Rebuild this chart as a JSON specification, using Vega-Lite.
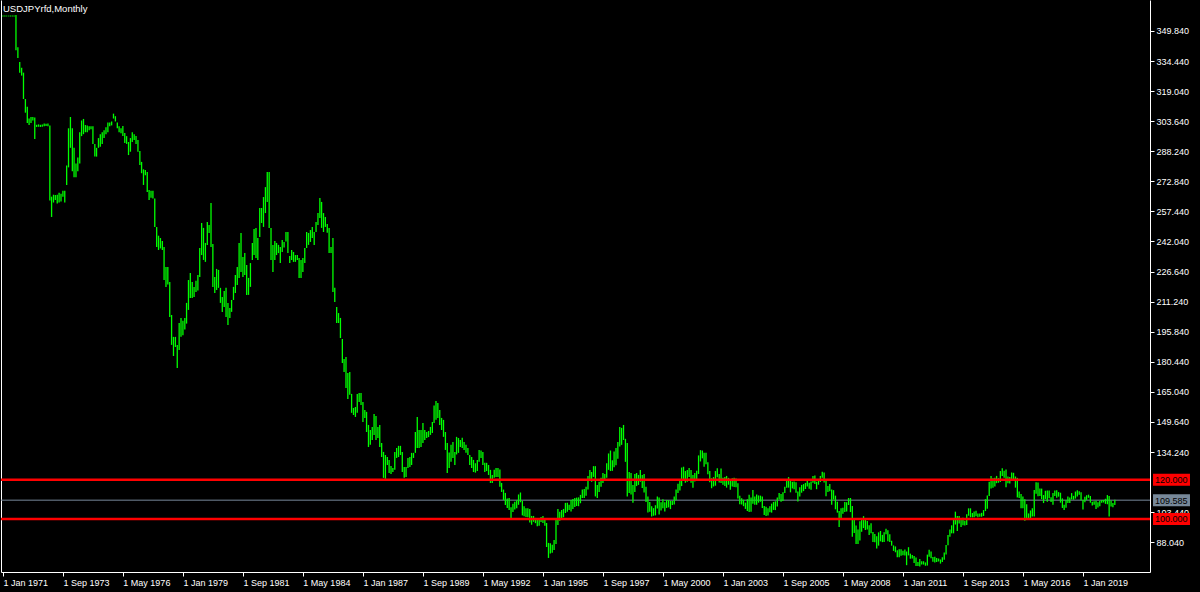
{
"$schema": "https://vega.github.io/schema/vega-lite/v6.json",
"width": 1149, "height": 572,
"autosize": {"type": "none"},
"padding": {"left": 1, "top": 0, "right": 50, "bottom": 20},
"background": "#000000",
"config": {"view": {"stroke": null}, "font": "Liberation Sans"},
"title": {"text": "USDJPYrfd,Monthly", "anchor": "start", "frame": "group", "offset": -21, "baseline": "alphabetic", "dx": 2, "color": "#ffffff", "fontSize": 9.5, "fontWeight": "normal", "font": "Liberation Sans"},
"datasets": {
"levels": [
{"level": 120, "label": "120.000", "kind": "level"},
{"level": 100, "label": "100.000", "kind": "level"},
{"level": 109.585, "label": "109.585", "kind": "bid"}
],
"bars": [
{"t":"1971-01","h":357.7,"l":357.3},{"t":"1971-02","h":357.7,"l":357.3},{"t":"1971-03","h":357.7,"l":357.3},{"t":"1971-04","h":357.7,"l":357.3},{"t":"1971-05","h":357.7,"l":357.3},{"t":"1971-06","h":357.7,"l":357.3},{"t":"1971-07","h":357.7,"l":357.3},{"t":"1971-08","h":358.0,"l":340.0},{"t":"1971-09","h":341.5,"l":336.0},{"t":"1971-10","h":334.0,"l":328.5},{"t":"1971-11","h":331.0,"l":327.0},{"t":"1971-12","h":328.5,"l":315.0},
{"t":"1972-01","h":315.0,"l":308.0},{"t":"1972-02","h":311.0,"l":302.7},{"t":"1972-03","h":305.0,"l":301.7},{"t":"1972-04","h":305.8,"l":302.7},{"t":"1972-05","h":305.8,"l":304.0},{"t":"1972-06","h":305.5,"l":294.5},{"t":"1972-07","h":301.8,"l":300.7},{"t":"1972-08","h":302.0,"l":300.8},{"t":"1972-09","h":301.8,"l":300.7},{"t":"1972-10","h":302.0,"l":300.8},{"t":"1972-11","h":302.5,"l":301.0},{"t":"1972-12","h":302.3,"l":301.2},
{"t":"1973-01","h":302.5,"l":301.0},{"t":"1973-02","h":301.5,"l":263.0},{"t":"1973-03","h":265.0,"l":254.6},{"t":"1973-04","h":266.0,"l":262.0},{"t":"1973-05","h":265.9,"l":263.3},{"t":"1973-06","h":266.0,"l":261.5},{"t":"1973-07","h":267.0,"l":262.0},{"t":"1973-08","h":266.5,"l":262.5},{"t":"1973-09","h":268.0,"l":265.0},{"t":"1973-10","h":268.0,"l":262.0},{"t":"1973-11","h":281.0,"l":271.0},{"t":"1973-12","h":300.0,"l":280.0},
{"t":"1974-01","h":305.8,"l":290.0},{"t":"1974-02","h":300.0,"l":278.0},{"t":"1974-03","h":290.0,"l":275.0},{"t":"1974-04","h":282.0,"l":275.0},{"t":"1974-05","h":285.0,"l":278.0},{"t":"1974-06","h":298.0,"l":282.0},{"t":"1974-07","h":304.0,"l":296.0},{"t":"1974-08","h":304.8,"l":297.0},{"t":"1974-09","h":301.7,"l":298.0},{"t":"1974-10","h":301.5,"l":298.0},{"t":"1974-11","h":301.0,"l":299.0},{"t":"1974-12","h":301.0,"l":299.5},
{"t":"1975-01","h":301.0,"l":292.0},{"t":"1975-02","h":292.0,"l":285.5},{"t":"1975-03","h":290.0,"l":285.5},{"t":"1975-04","h":295.0,"l":290.0},{"t":"1975-05","h":297.0,"l":290.5},{"t":"1975-06","h":298.0,"l":292.0},{"t":"1975-07","h":299.0,"l":295.0},{"t":"1975-08","h":300.5,"l":297.0},{"t":"1975-09","h":303.0,"l":298.0},{"t":"1975-10","h":303.0,"l":301.0},{"t":"1975-11","h":303.5,"l":301.5},{"t":"1975-12","h":307.5,"l":305.0},
{"t":"1976-01","h":306.2,"l":303.5},{"t":"1976-02","h":303.0,"l":300.0},{"t":"1976-03","h":301.0,"l":298.0},{"t":"1976-04","h":300.0,"l":297.5},{"t":"1976-05","h":301.2,"l":296.0},{"t":"1976-06","h":297.6,"l":292.5},{"t":"1976-07","h":296.0,"l":292.0},{"t":"1976-08","h":293.0,"l":286.3},{"t":"1976-09","h":295.0,"l":288.0},{"t":"1976-10","h":298.0,"l":293.0},{"t":"1976-11","h":297.0,"l":294.0},{"t":"1976-12","h":296.0,"l":292.0},
{"t":"1977-01","h":294.0,"l":288.0},{"t":"1977-02","h":288.4,"l":281.2},{"t":"1977-03","h":282.8,"l":277.0},{"t":"1977-04","h":279.0,"l":271.0},{"t":"1977-05","h":278.7,"l":276.0},{"t":"1977-06","h":277.6,"l":267.4},{"t":"1977-07","h":268.4,"l":263.3},{"t":"1977-08","h":268.0,"l":264.5},{"t":"1977-09","h":268.0,"l":264.0},{"t":"1977-10","h":264.0,"l":249.5},{"t":"1977-11","h":249.5,"l":239.2},{"t":"1977-12","h":245.0,"l":237.7},
{"t":"1978-01","h":243.8,"l":238.5},{"t":"1978-02","h":242.3,"l":237.7},{"t":"1978-03","h":239.2,"l":222.3},{"t":"1978-04","h":229.0,"l":218.8},{"t":"1978-05","h":229.0,"l":220.0},{"t":"1978-06","h":221.3,"l":203.4},{"t":"1978-07","h":204.4,"l":189.1},{"t":"1978-08","h":193.2,"l":183.4},{"t":"1978-09","h":193.2,"l":188.0},{"t":"1978-10","h":189.1,"l":177.3},{"t":"1978-11","h":200.3,"l":186.5},{"t":"1978-12","h":202.9,"l":193.2},
{"t":"1979-01","h":201.5,"l":194.0},{"t":"1979-02","h":202.9,"l":197.0},{"t":"1979-03","h":210.6,"l":200.0},{"t":"1979-04","h":222.3,"l":207.0},{"t":"1979-05","h":225.9,"l":213.1},{"t":"1979-06","h":221.3,"l":213.1},{"t":"1979-07","h":218.8,"l":213.6},{"t":"1979-08","h":222.0,"l":216.2},{"t":"1979-09","h":224.9,"l":217.0},{"t":"1979-10","h":238.7,"l":223.9},{"t":"1979-11","h":251.5,"l":235.1},{"t":"1979-12","h":249.0,"l":232.6},
{"t":"1980-01","h":241.3,"l":231.6},{"t":"1980-02","h":252.0,"l":240.3},{"t":"1980-03","h":250.5,"l":246.4},{"t":"1980-04","h":261.8,"l":239.2},{"t":"1980-05","h":240.8,"l":218.8},{"t":"1980-06","h":223.9,"l":215.7},{"t":"1980-07","h":228.0,"l":217.2},{"t":"1980-08","h":227.5,"l":218.3},{"t":"1980-09","h":218.3,"l":210.6},{"t":"1980-10","h":213.6,"l":206.0},{"t":"1980-11","h":216.7,"l":208.5},{"t":"1980-12","h":218.3,"l":203.4},
{"t":"1981-01","h":210.6,"l":199.3},{"t":"1981-02","h":208.0,"l":202.9},{"t":"1981-03","h":212.1,"l":206.0},{"t":"1981-04","h":218.8,"l":212.1},{"t":"1981-05","h":224.9,"l":215.7},{"t":"1981-06","h":229.0,"l":219.8},{"t":"1981-07","h":241.3,"l":223.4},{"t":"1981-08","h":246.4,"l":226.4},{"t":"1981-09","h":234.1,"l":223.9},{"t":"1981-10","h":236.1,"l":224.9},{"t":"1981-11","h":230.0,"l":214.7},{"t":"1981-12","h":223.4,"l":214.7},
{"t":"1982-01","h":231.0,"l":218.8},{"t":"1982-02","h":241.3,"l":232.6},{"t":"1982-03","h":248.4,"l":235.1},{"t":"1982-04","h":249.0,"l":233.6},{"t":"1982-05","h":243.8,"l":232.6},{"t":"1982-06","h":259.2,"l":244.4},{"t":"1982-07","h":259.2,"l":251.5},{"t":"1982-08","h":264.8,"l":249.5},{"t":"1982-09","h":269.9,"l":256.6},{"t":"1982-10","h":277.6,"l":262.3},{"t":"1982-11","h":277.6,"l":249.0},{"t":"1982-12","h":249.0,"l":232.6},
{"t":"1983-01","h":240.3,"l":226.4},{"t":"1983-02","h":242.3,"l":232.6},{"t":"1983-03","h":241.3,"l":235.1},{"t":"1983-04","h":240.3,"l":236.1},{"t":"1983-05","h":239.2,"l":231.0},{"t":"1983-06","h":242.8,"l":236.7},{"t":"1983-07","h":241.8,"l":239.0},{"t":"1983-08","h":246.9,"l":242.0},{"t":"1983-09","h":246.9,"l":236.1},{"t":"1983-10","h":234.6,"l":231.0},{"t":"1983-11","h":237.7,"l":232.6},{"t":"1983-12","h":236.7,"l":231.6},
{"t":"1984-01","h":235.1,"l":231.6},{"t":"1984-02","h":235.1,"l":232.6},{"t":"1984-03","h":233.6,"l":223.4},{"t":"1984-04","h":232.6,"l":223.4},{"t":"1984-05","h":233.6,"l":226.4},{"t":"1984-06","h":238.7,"l":231.0},{"t":"1984-07","h":246.9,"l":238.7},{"t":"1984-08","h":246.4,"l":240.3},{"t":"1984-09","h":247.9,"l":241.8},{"t":"1984-10","h":249.5,"l":243.8},{"t":"1984-11","h":246.9,"l":240.3},{"t":"1984-12","h":252.0,"l":246.9},
{"t":"1985-01","h":256.6,"l":250.5},{"t":"1985-02","h":264.3,"l":254.1},{"t":"1985-03","h":262.3,"l":249.0},{"t":"1985-04","h":256.6,"l":246.9},{"t":"1985-05","h":254.6,"l":249.5},{"t":"1985-06","h":251.0,"l":246.5},{"t":"1985-07","h":249.0,"l":236.1},{"t":"1985-08","h":239.2,"l":236.1},{"t":"1985-09","h":243.8,"l":216.2},{"t":"1985-10","h":218.3,"l":211.1},{"t":"1985-11","h":208.5,"l":200.3},{"t":"1985-12","h":205.4,"l":200.3},
{"t":"1986-01","h":202.9,"l":192.6},{"t":"1986-02","h":192.1,"l":179.8},{"t":"1986-03","h":181.9,"l":175.2},{"t":"1986-04","h":182.9,"l":167.0},{"t":"1986-05","h":174.7,"l":161.4},{"t":"1986-06","h":175.2,"l":163.5},{"t":"1986-07","h":164.0,"l":154.3},{"t":"1986-08","h":156.8,"l":153.2},{"t":"1986-09","h":157.3,"l":152.2},{"t":"1986-10","h":164.0,"l":154.3},{"t":"1986-11","h":164.5,"l":159.9},{"t":"1986-12","h":164.5,"l":158.3},
{"t":"1987-01","h":159.9,"l":149.6},{"t":"1987-02","h":155.8,"l":151.7},{"t":"1987-03","h":154.8,"l":144.5},{"t":"1987-04","h":148.1,"l":136.8},{"t":"1987-05","h":145.5,"l":137.9},{"t":"1987-06","h":147.1,"l":140.4},{"t":"1987-07","h":153.7,"l":143.0},{"t":"1987-08","h":152.7,"l":140.4},{"t":"1987-09","h":147.1,"l":141.4},{"t":"1987-10","h":148.1,"l":136.8},{"t":"1987-11","h":138.9,"l":131.7},{"t":"1987-12","h":134.3,"l":121.0},
{"t":"1988-01","h":132.7,"l":120.5},{"t":"1988-02","h":131.7,"l":127.6},{"t":"1988-03","h":130.2,"l":123.5},{"t":"1988-04","h":127.1,"l":123.0},{"t":"1988-05","h":126.1,"l":124.0},{"t":"1988-06","h":134.3,"l":125.1},{"t":"1988-07","h":136.3,"l":131.2},{"t":"1988-08","h":137.4,"l":131.7},{"t":"1988-09","h":137.4,"l":132.7},{"t":"1988-10","h":134.3,"l":124.0},{"t":"1988-11","h":126.6,"l":121.0},{"t":"1988-12","h":126.6,"l":121.5},
{"t":"1989-01","h":131.2,"l":126.1},{"t":"1989-02","h":131.7,"l":126.6},{"t":"1989-03","h":133.8,"l":127.6},{"t":"1989-04","h":133.8,"l":131.2},{"t":"1989-05","h":144.5,"l":133.8},{"t":"1989-06","h":152.2,"l":136.3},{"t":"1989-07","h":145.5,"l":136.3},{"t":"1989-08","h":145.5,"l":136.8},{"t":"1989-09","h":149.1,"l":138.9},{"t":"1989-10","h":145.5,"l":140.4},{"t":"1989-11","h":144.5,"l":141.4},{"t":"1989-12","h":145.0,"l":141.9},
{"t":"1990-01","h":147.1,"l":143.0},{"t":"1990-02","h":149.6,"l":144.0},{"t":"1990-03","h":158.0,"l":149.1},{"t":"1990-04","h":160.3,"l":150.7},{"t":"1990-05","h":159.4,"l":151.7},{"t":"1990-06","h":155.8,"l":148.1},{"t":"1990-07","h":151.7,"l":145.5},{"t":"1990-08","h":150.7,"l":142.0},{"t":"1990-09","h":144.5,"l":135.3},{"t":"1990-10","h":138.9,"l":123.5},{"t":"1990-11","h":134.0,"l":126.1},{"t":"1990-12","h":137.9,"l":129.2},
{"t":"1991-01","h":139.4,"l":131.2},{"t":"1991-02","h":134.3,"l":127.6},{"t":"1991-03","h":142.0,"l":133.0},{"t":"1991-04","h":141.4,"l":133.8},{"t":"1991-05","h":140.4,"l":136.8},{"t":"1991-06","h":141.5,"l":136.3},{"t":"1991-07","h":139.4,"l":135.3},{"t":"1991-08","h":137.9,"l":133.8},{"t":"1991-09","h":136.3,"l":132.7},{"t":"1991-10","h":132.7,"l":127.6},{"t":"1991-11","h":131.7,"l":126.1},{"t":"1991-12","h":130.2,"l":124.0},
{"t":"1992-01","h":128.5,"l":123.7},{"t":"1992-02","h":130.2,"l":124.5},{"t":"1992-03","h":135.3,"l":129.2},{"t":"1992-04","h":135.0,"l":131.2},{"t":"1992-05","h":134.3,"l":127.6},{"t":"1992-06","h":128.7,"l":124.0},{"t":"1992-07","h":128.7,"l":124.5},{"t":"1992-08","h":127.6,"l":122.5},{"t":"1992-09","h":125.1,"l":118.4},{"t":"1992-10","h":122.5,"l":118.4},{"t":"1992-11","h":125.1,"l":121.0},{"t":"1992-12","h":126.1,"l":121.5},
{"t":"1993-01","h":126.0,"l":121.5},{"t":"1993-02","h":125.3,"l":116.5},{"t":"1993-03","h":118.4,"l":113.8},{"t":"1993-04","h":115.0,"l":109.7},{"t":"1993-05","h":113.3,"l":107.1},{"t":"1993-06","h":110.5,"l":105.6},{"t":"1993-07","h":110.7,"l":104.5},{"t":"1993-08","h":106.0,"l":100.5},{"t":"1993-09","h":107.7,"l":103.5},{"t":"1993-10","h":108.8,"l":104.8},{"t":"1993-11","h":109.5,"l":105.5},{"t":"1993-12","h":112.5,"l":107.2},
{"t":"1994-01","h":113.5,"l":108.5},{"t":"1994-02","h":109.3,"l":101.8},{"t":"1994-03","h":106.5,"l":101.3},{"t":"1994-04","h":105.5,"l":101.0},{"t":"1994-05","h":105.5,"l":100.8},{"t":"1994-06","h":105.0,"l":98.2},{"t":"1994-07","h":101.5,"l":97.0},{"t":"1994-08","h":101.5,"l":98.5},{"t":"1994-09","h":100.5,"l":97.8},{"t":"1994-10","h":99.9,"l":96.2},{"t":"1994-11","h":99.7,"l":96.5},{"t":"1994-12","h":101.0,"l":98.4},
{"t":"1995-01","h":101.5,"l":97.9},{"t":"1995-02","h":99.8,"l":96.5},{"t":"1995-03","h":97.9,"l":85.6},{"t":"1995-04","h":87.7,"l":80.0},{"t":"1995-05","h":87.5,"l":82.3},{"t":"1995-06","h":86.7,"l":82.6},{"t":"1995-07","h":89.2,"l":84.1},{"t":"1995-08","h":99.5,"l":87.2},{"t":"1995-09","h":105.1,"l":96.9},{"t":"1995-10","h":103.6,"l":99.0},{"t":"1995-11","h":104.6,"l":100.5},{"t":"1995-12","h":105.1,"l":100.8},
{"t":"1996-01","h":108.2,"l":103.0},{"t":"1996-02","h":108.2,"l":103.6},{"t":"1996-03","h":107.3,"l":104.6},{"t":"1996-04","h":109.7,"l":103.8},{"t":"1996-05","h":110.2,"l":105.1},{"t":"1996-06","h":110.7,"l":106.1},{"t":"1996-07","h":110.9,"l":106.6},{"t":"1996-08","h":111.0,"l":106.5},{"t":"1996-09","h":112.3,"l":108.0},{"t":"1996-10","h":115.0,"l":110.7},{"t":"1996-11","h":115.3,"l":110.7},{"t":"1996-12","h":116.4,"l":111.8},
{"t":"1997-01","h":122.0,"l":115.0},{"t":"1997-02","h":125.0,"l":120.0},{"t":"1997-03","h":124.0,"l":119.0},{"t":"1997-04","h":127.0,"l":121.5},{"t":"1997-05","h":127.0,"l":111.5},{"t":"1997-06","h":117.4,"l":110.7},{"t":"1997-07","h":119.0,"l":113.8},{"t":"1997-08","h":121.0,"l":116.5},{"t":"1997-09","h":123.5,"l":118.4},{"t":"1997-10","h":123.0,"l":119.5},{"t":"1997-11","h":128.5,"l":121.0},{"t":"1997-12","h":133.5,"l":125.1},
{"t":"1998-01","h":135.0,"l":124.5},{"t":"1998-02","h":130.0,"l":124.6},{"t":"1998-03","h":134.5,"l":126.5},{"t":"1998-04","h":136.3,"l":127.5},{"t":"1998-05","h":139.4,"l":130.8},{"t":"1998-06","h":147.1,"l":137.0},{"t":"1998-07","h":146.6,"l":137.9},{"t":"1998-08","h":148.1,"l":140.4},{"t":"1998-09","h":141.0,"l":129.2},{"t":"1998-10","h":138.9,"l":111.4},{"t":"1998-11","h":124.0,"l":113.3},{"t":"1998-12","h":123.5,"l":112.5},
{"t":"1999-01","h":117.4,"l":108.2},{"t":"1999-02","h":123.0,"l":113.8},{"t":"1999-03","h":123.5,"l":116.8},{"t":"1999-04","h":122.5,"l":117.4},{"t":"1999-05","h":125.0,"l":119.0},{"t":"1999-06","h":122.5,"l":115.8},{"t":"1999-07","h":123.0,"l":113.5},{"t":"1999-08","h":116.4,"l":108.7},{"t":"1999-09","h":111.4,"l":103.3},{"t":"1999-10","h":108.7,"l":103.6},{"t":"1999-11","h":106.5,"l":101.2},{"t":"1999-12","h":105.5,"l":101.6},
{"t":"2000-01","h":107.0,"l":101.8},{"t":"2000-02","h":111.4,"l":105.3},{"t":"2000-03","h":111.0,"l":102.2},{"t":"2000-04","h":108.5,"l":104.3},{"t":"2000-05","h":110.0,"l":105.5},{"t":"2000-06","h":108.5,"l":103.8},{"t":"2000-07","h":109.7,"l":105.6},{"t":"2000-08","h":109.6,"l":105.9},{"t":"2000-09","h":109.2,"l":105.0},{"t":"2000-10","h":109.1,"l":107.1},{"t":"2000-11","h":111.4,"l":107.4},{"t":"2000-12","h":115.0,"l":109.5},
{"t":"2001-01","h":118.0,"l":113.2},{"t":"2001-02","h":119.5,"l":114.5},{"t":"2001-03","h":126.3,"l":116.8},{"t":"2001-04","h":126.7,"l":120.0},{"t":"2001-05","h":124.5,"l":118.5},{"t":"2001-06","h":125.0,"l":119.0},{"t":"2001-07","h":126.0,"l":121.5},{"t":"2001-08","h":125.0,"l":118.5},{"t":"2001-09","h":122.5,"l":115.9},{"t":"2001-10","h":123.5,"l":119.1},{"t":"2001-11","h":124.6,"l":120.2},{"t":"2001-12","h":132.5,"l":123.0},
{"t":"2002-01","h":135.2,"l":129.4},{"t":"2002-02","h":135.0,"l":131.0},{"t":"2002-03","h":133.8,"l":126.7},{"t":"2002-04","h":133.8,"l":128.0},{"t":"2002-05","h":129.0,"l":122.8},{"t":"2002-06","h":124.5,"l":118.7},{"t":"2002-07","h":120.8,"l":115.7},{"t":"2002-08","h":121.4,"l":116.6},{"t":"2002-09","h":124.5,"l":117.0},{"t":"2002-10","h":125.9,"l":121.3},{"t":"2002-11","h":123.0,"l":118.6},{"t":"2002-12","h":125.8,"l":118.4},
{"t":"2003-01","h":121.0,"l":117.5},{"t":"2003-02","h":121.4,"l":116.8},{"t":"2003-03","h":122.0,"l":116.0},{"t":"2003-04","h":121.0,"l":117.5},{"t":"2003-05","h":119.8,"l":114.9},{"t":"2003-06","h":120.8,"l":116.6},{"t":"2003-07","h":121.0,"l":116.3},{"t":"2003-08","h":120.7,"l":116.2},{"t":"2003-09","h":118.2,"l":110.5},{"t":"2003-10","h":111.8,"l":107.5},{"t":"2003-11","h":110.6,"l":107.4},{"t":"2003-12","h":109.8,"l":106.5},
{"t":"2004-01","h":108.3,"l":105.1},{"t":"2004-02","h":110.0,"l":104.0},{"t":"2004-03","h":112.3,"l":103.5},{"t":"2004-04","h":110.9,"l":103.7},{"t":"2004-05","h":114.8,"l":107.8},{"t":"2004-06","h":111.5,"l":107.2},{"t":"2004-07","h":112.5,"l":107.2},{"t":"2004-08","h":112.0,"l":108.3},{"t":"2004-09","h":111.9,"l":108.8},{"t":"2004-10","h":111.4,"l":105.6},{"t":"2004-11","h":106.6,"l":102.0},{"t":"2004-12","h":106.2,"l":101.5},
{"t":"2005-01","h":105.5,"l":101.7},{"t":"2005-02","h":106.5,"l":103.4},{"t":"2005-03","h":107.8,"l":103.2},{"t":"2005-04","h":108.7,"l":104.6},{"t":"2005-05","h":109.0,"l":104.5},{"t":"2005-06","h":111.0,"l":106.4},{"t":"2005-07","h":113.2,"l":109.9},{"t":"2005-08","h":112.8,"l":108.8},{"t":"2005-09","h":113.7,"l":109.2},{"t":"2005-10","h":116.4,"l":113.3},{"t":"2005-11","h":120.0,"l":115.9},{"t":"2005-12","h":121.4,"l":116.0},
{"t":"2006-01","h":119.6,"l":113.6},{"t":"2006-02","h":119.0,"l":115.6},{"t":"2006-03","h":119.1,"l":115.2},{"t":"2006-04","h":118.8,"l":113.4},{"t":"2006-05","h":114.0,"l":108.9},{"t":"2006-06","h":116.2,"l":111.4},{"t":"2006-07","h":117.4,"l":113.4},{"t":"2006-08","h":117.8,"l":114.2},{"t":"2006-09","h":118.4,"l":115.3},{"t":"2006-10","h":119.8,"l":116.6},{"t":"2006-11","h":118.5,"l":115.4},{"t":"2006-12","h":119.1,"l":114.9},
{"t":"2007-01","h":122.0,"l":118.5},{"t":"2007-02","h":122.2,"l":117.9},{"t":"2007-03","h":119.0,"l":115.2},{"t":"2007-04","h":120.2,"l":117.5},{"t":"2007-05","h":122.0,"l":118.9},{"t":"2007-06","h":124.1,"l":121.1},{"t":"2007-07","h":123.7,"l":118.6},{"t":"2007-08","h":119.8,"l":111.6},{"t":"2007-09","h":116.9,"l":113.8},{"t":"2007-10","h":117.9,"l":114.1},{"t":"2007-11","h":115.1,"l":107.3},{"t":"2007-12","h":114.7,"l":109.9},
{"t":"2008-01","h":111.9,"l":104.9},{"t":"2008-02","h":108.8,"l":103.2},{"t":"2008-03","h":104.0,"l":95.8},{"t":"2008-04","h":105.5,"l":99.7},{"t":"2008-05","h":105.7,"l":102.6},{"t":"2008-06","h":108.6,"l":103.5},{"t":"2008-07","h":108.5,"l":103.8},{"t":"2008-08","h":110.7,"l":107.1},{"t":"2008-09","h":110.7,"l":103.5},{"t":"2008-10","h":106.6,"l":90.9},{"t":"2008-11","h":100.5,"l":92.8},{"t":"2008-12","h":96.6,"l":87.1},
{"t":"2009-01","h":94.6,"l":87.1},{"t":"2009-02","h":98.8,"l":88.9},{"t":"2009-03","h":99.7,"l":93.4},{"t":"2009-04","h":101.4,"l":95.3},{"t":"2009-05","h":99.7,"l":94.3},{"t":"2009-06","h":98.9,"l":94.5},{"t":"2009-07","h":96.8,"l":91.7},{"t":"2009-08","h":97.8,"l":92.6},{"t":"2009-09","h":93.3,"l":88.2},{"t":"2009-10","h":92.2,"l":88.0},{"t":"2009-11","h":91.1,"l":84.8},{"t":"2009-12","h":93.1,"l":86.3},
{"t":"2010-01","h":93.8,"l":88.5},{"t":"2010-02","h":91.8,"l":88.1},{"t":"2010-03","h":93.2,"l":88.1},{"t":"2010-04","h":95.0,"l":92.1},{"t":"2010-05","h":94.2,"l":88.6},{"t":"2010-06","h":92.1,"l":88.2},{"t":"2010-07","h":88.8,"l":86.3},{"t":"2010-08","h":86.4,"l":83.6},{"t":"2010-09","h":85.9,"l":82.9},{"t":"2010-10","h":84.0,"l":80.4},{"t":"2010-11","h":84.4,"l":80.3},{"t":"2010-12","h":84.5,"l":81.1},
{"t":"2011-01","h":83.7,"l":81.4},{"t":"2011-02","h":84.3,"l":81.2},{"t":"2011-03","h":83.3,"l":76.3},{"t":"2011-04","h":85.5,"l":81.3},{"t":"2011-05","h":82.2,"l":79.6},{"t":"2011-06","h":81.5,"l":79.7},{"t":"2011-07","h":81.0,"l":77.4},{"t":"2011-08","h":80.2,"l":75.9},{"t":"2011-09","h":77.9,"l":75.9},{"t":"2011-10","h":79.5,"l":75.6},{"t":"2011-11","h":78.3,"l":76.6},{"t":"2011-12","h":78.3,"l":76.6},
{"t":"2012-01","h":77.7,"l":76.0},{"t":"2012-02","h":81.7,"l":76.1},{"t":"2012-03","h":84.2,"l":80.6},{"t":"2012-04","h":83.3,"l":79.8},{"t":"2012-05","h":80.5,"l":78.0},{"t":"2012-06","h":80.6,"l":77.7},{"t":"2012-07","h":80.0,"l":77.9},{"t":"2012-08","h":79.7,"l":78.2},{"t":"2012-09","h":79.2,"l":77.1},{"t":"2012-10","h":80.4,"l":77.9},{"t":"2012-11","h":82.8,"l":79.1},{"t":"2012-12","h":86.6,"l":81.7},
{"t":"2013-01","h":91.7,"l":86.5},{"t":"2013-02","h":94.5,"l":90.8},{"t":"2013-03","h":96.7,"l":92.6},{"t":"2013-04","h":99.9,"l":92.6},{"t":"2013-05","h":103.7,"l":97.1},{"t":"2013-06","h":101.5,"l":93.8},{"t":"2013-07","h":101.5,"l":97.6},{"t":"2013-08","h":99.9,"l":95.8},{"t":"2013-09","h":100.6,"l":96.8},{"t":"2013-10","h":99.0,"l":96.6},{"t":"2013-11","h":102.4,"l":96.9},{"t":"2013-12","h":105.4,"l":101.6},
{"t":"2014-01","h":105.4,"l":100.8},{"t":"2014-02","h":103.0,"l":100.8},{"t":"2014-03","h":103.8,"l":100.8},{"t":"2014-04","h":104.1,"l":101.4},{"t":"2014-05","h":102.8,"l":100.8},{"t":"2014-06","h":102.8,"l":101.1},{"t":"2014-07","h":103.1,"l":101.1},{"t":"2014-08","h":104.5,"l":101.5},{"t":"2014-09","h":110.1,"l":104.0},{"t":"2014-10","h":112.0,"l":105.2},{"t":"2014-11","h":119.0,"l":111.7},{"t":"2014-12","h":121.9,"l":115.6},
{"t":"2015-01","h":120.8,"l":115.9},{"t":"2015-02","h":121.0,"l":116.6},{"t":"2015-03","h":122.0,"l":118.3},{"t":"2015-04","h":120.8,"l":118.5},{"t":"2015-05","h":124.5,"l":118.9},{"t":"2015-06","h":125.9,"l":122.0},{"t":"2015-07","h":124.6,"l":121.0},{"t":"2015-08","h":125.3,"l":116.2},{"t":"2015-09","h":121.7,"l":118.3},{"t":"2015-10","h":121.5,"l":118.1},{"t":"2015-11","h":123.8,"l":120.2},{"t":"2015-12","h":123.6,"l":119.9},
{"t":"2016-01","h":121.7,"l":116.0},{"t":"2016-02","h":121.0,"l":111.0},{"t":"2016-03","h":114.0,"l":110.7},{"t":"2016-04","h":112.7,"l":105.5},{"t":"2016-05","h":111.4,"l":105.5},{"t":"2016-06","h":110.0,"l":99.0},{"t":"2016-07","h":107.5,"l":100.0},{"t":"2016-08","h":102.8,"l":99.5},{"t":"2016-09","h":104.3,"l":100.1},{"t":"2016-10","h":105.5,"l":101.2},{"t":"2016-11","h":114.8,"l":101.2},{"t":"2016-12","h":118.7,"l":112.9},
{"t":"2017-01","h":118.6,"l":111.6},{"t":"2017-02","h":115.6,"l":111.7},{"t":"2017-03","h":115.5,"l":110.1},{"t":"2017-04","h":112.2,"l":108.1},{"t":"2017-05","h":114.4,"l":110.2},{"t":"2017-06","h":114.5,"l":108.8},{"t":"2017-07","h":114.5,"l":110.6},{"t":"2017-08","h":111.1,"l":108.6},{"t":"2017-09","h":113.2,"l":107.3},{"t":"2017-10","h":114.5,"l":111.7},{"t":"2017-11","h":114.7,"l":110.8},{"t":"2017-12","h":113.7,"l":111.4},
{"t":"2018-01","h":113.4,"l":108.3},{"t":"2018-02","h":110.5,"l":105.6},{"t":"2018-03","h":107.3,"l":104.6},{"t":"2018-04","h":109.6,"l":105.7},{"t":"2018-05","h":111.4,"l":108.1},{"t":"2018-06","h":111.0,"l":108.1},{"t":"2018-07","h":113.2,"l":110.0},{"t":"2018-08","h":111.8,"l":109.8},{"t":"2018-09","h":114.0,"l":110.4},{"t":"2018-10","h":114.6,"l":111.4},{"t":"2018-11","h":114.2,"l":112.3},{"t":"2018-12","h":113.7,"l":109.6},
{"t":"2019-01","h":109.7,"l":104.8},{"t":"2019-02","h":111.3,"l":108.5},{"t":"2019-03","h":112.1,"l":109.7},{"t":"2019-04","h":112.4,"l":110.8},{"t":"2019-05","h":111.7,"l":108.3},{"t":"2019-06","h":108.8,"l":106.8},{"t":"2019-07","h":109.0,"l":107.2},{"t":"2019-08","h":109.3,"l":105.1},{"t":"2019-09","h":108.5,"l":105.8},{"t":"2019-10","h":109.2,"l":106.5},{"t":"2019-11","h":109.7,"l":108.2},{"t":"2019-12","h":109.7,"l":108.4},
{"t":"2020-01","h":110.3,"l":107.7},{"t":"2020-02","h":112.2,"l":107.5},{"t":"2020-03","h":111.7,"l":101.2},{"t":"2020-04","h":109.4,"l":106.4},{"t":"2020-05","h":108.1,"l":106.0},{"t":"2020-06","h":109.8,"l":107.1}
]
},
"resolve": {"scale": {"y": "shared", "x": "shared"}, "axis": {"y": "independent"}},
"layer": [
{
"data": {"name": "levels"},
"transform": [{"filter": "datum.kind === 'bid'"}],
"mark": {"type": "rule", "color": "#778899", "strokeWidth": 1},
"encoding": {
"y": {"field": "level", "type": "quantitative", "scale": {"domain": [72.8, 365.7], "nice": false, "zero": false, "padding": 0},
"axis": {"orient": "left", "labels": false, "ticks": false, "grid": false, "title": null, "domain": true, "domainColor": "#ffffff", "domainWidth": 1, "zindex": 0}}
}
},
{
"data": {"name": "bars"},
"mark": {"type": "rule", "color": "#00ff00", "strokeWidth": 1.3},
"encoding": {
"x": {"field": "t", "type": "temporal",
"scale": {"domain": [{"year": 1970, "month": 12, "date": 1}, {"year": 2021, "month": 12, "date": 24}], "nice": false, "padding": 0},
"axis": {"orient": "bottom", "title": null, "grid": false, "format": "%-d %b %Y", "formatType": "time", "zindex": 0,
"values": [{"year":1971,"month":1,"date":1},{"year":1973,"month":9,"date":1},{"year":1976,"month":5,"date":1},{"year":1979,"month":1,"date":1},{"year":1981,"month":9,"date":1},{"year":1984,"month":5,"date":1},{"year":1987,"month":1,"date":1},{"year":1989,"month":9,"date":1},{"year":1992,"month":5,"date":1},{"year":1995,"month":1,"date":1},{"year":1997,"month":9,"date":1},{"year":2000,"month":5,"date":1},{"year":2003,"month":1,"date":1},{"year":2005,"month":9,"date":1},{"year":2008,"month":5,"date":1},{"year":2011,"month":1,"date":1},{"year":2013,"month":9,"date":1},{"year":2016,"month":5,"date":1},{"year":2019,"month":1,"date":1}],
"labelAlign": "left", "labelFlush": false, "labelOverlap": false, "labelBound": false, "labelPadding": 2,
"labelColor": "#ffffff", "labelFont": "Liberation Sans", "labelFontSize": 9,
"tickColor": "#ffffff", "tickSize": 4, "domainColor": "#ffffff", "domainWidth": 1}},
"y": {"field": "h", "type": "quantitative", "scale": {"domain": [72.8, 365.7], "nice": false, "zero": false, "padding": 0},
"axis": {"orient": "right", "title": null, "grid": false, "format": ".3f", "zindex": 0,
"values": [88.04, 103.44, 134.24, 149.64, 165.04, 180.44, 195.84, 211.24, 226.64, 242.04, 257.44, 272.84, 288.24, 303.64, 319.04, 334.44, 349.84],
"labelColor": "#ffffff", "labelFont": "Liberation Sans", "labelFontSize": 9, "labelPadding": 2,
"tickColor": "#ffffff", "tickSize": 4, "domainColor": "#ffffff", "domainWidth": 1}},
"y2": {"field": "l"}
}
},
{
"data": {"name": "levels"},
"transform": [{"filter": "datum.kind === 'level'"}],
"mark": {"type": "rule", "color": "#ff0000", "strokeWidth": 2.5},
"encoding": {
"y": {"field": "level", "type": "quantitative", "axis": null}
}
},
{
"data": {"name": "levels"},
"mark": {"type": "bar", "size": 12, "clip": false},
"encoding": {
"x": {"datum": {"year": 2022, "month": 2, "date": 11}, "type": "temporal"},
"x2": {"datum": {"year": 2023, "month": 10, "date": 4}},
"y": {"field": "level", "type": "quantitative", "axis": null},
"color": {"field": "kind", "type": "nominal", "scale": {"domain": ["level", "bid"], "range": ["#ff0000", "#778899"]}, "legend": null}
}
},
{
"data": {"name": "levels"},
"mark": {"type": "text", "align": "left", "baseline": "middle", "color": "#000000", "font": "Liberation Sans", "fontSize": 9, "clip": false, "dy": 0.5},
"encoding": {
"x": {"datum": {"year": 2022, "month": 3, "date": 15}, "type": "temporal"},
"y": {"field": "level", "type": "quantitative", "axis": null},
"text": {"field": "label"}
}
}
]
}
